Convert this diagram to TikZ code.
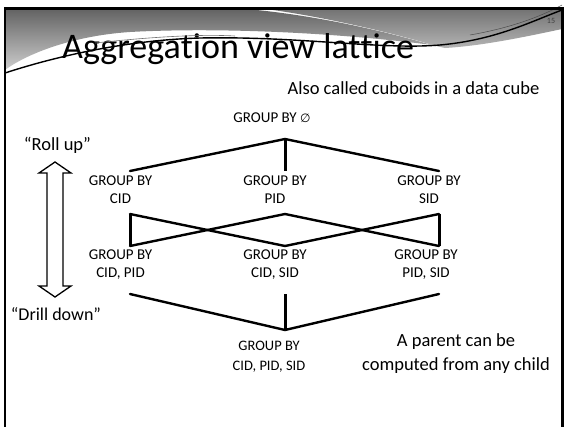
\documentclass[tikz,border=0pt]{standalone}
\usepackage{fontspec}
\setmainfont{Carlito}[RawFeature={-liga,-clig,-calt}]
\newfontfamily\symfont{DejaVu Sans}
\newcommand{\nolig}{\kern0pt{}}
\definecolor{hdrA}{HTML}{626262}
\definecolor{hdrB}{HTML}{CDCDCD}
\definecolor{hdrC}{HTML}{727272}
\definecolor{hdrD}{HTML}{B4B4B4}
\begin{document}
\begin{tikzpicture}[x=1pt,y=-1pt,
  lat/.style={line width=2.4pt, line cap=round},
  latv/.style={line width=3pt},
  lbl/.style={font=\fontsize{15}{18}\selectfont, align=center, inner sep=0pt},
  note/.style={font=\fontsize{18.5}{24}\selectfont, align=center, inner sep=0pt}]
\useasboundingbox (0,0) rectangle (565,426);
\clip (0,0) rectangle (565,426);
\fill[white] (0,0) rectangle (565,426);

% slide header: two grey bands separated by a white swoosh
\shade[top color=hdrA, bottom color=hdrB]
  (5,8.5) -- (240,8.5) .. controls (310,14) and (380,30) .. (432,45)
  .. controls (340,33) and (220,27) .. (130,32)
  .. controls (70,36) and (25,55) .. (5,70) -- cycle;
\shade[top color=hdrC, bottom color=hdrD]
  (262,8.5) -- (562,8.5) -- (562,29) .. controls (520,38) and (480,46) .. (445,48)
  -- (436,46) .. controls (390,32) and (320,16) .. (262,8.5) -- cycle;

% title (letter pairs kept apart so no ligatures form)
\node[anchor=base west, font=\fontsize{36}{40}\selectfont, inner sep=0pt] (title) at (62,58)
  {Aggrega\nolig tion view lat\nolig t\nolig ice};

% header rules
\draw[line width=0.6pt, black!55] (95,43) .. controls (150,37) and (200,34) .. (235,36);
\draw[line width=0.5pt, black!70] (470,35) .. controls (510,28) and (540,17) .. (562,5);
\draw[line width=1.4pt] (5,73) .. controls (60,55) and (130,40) .. (200,38)
  .. controls (300,36) and (380,50) .. (440,45) .. controls (495,40) and (530,22) .. (562,10);
\node[font=\fontsize{8}{9}\selectfont, text=black!75, inner sep=0pt] (pg) at (551,21) {15};

% slide frame
\draw[line width=2.5pt] (5,8.5) -- (562.5,8.5) -- (562.5,440) -- (5,440) -- cycle;

% notes
\node[note] (also) at (413.5,88) {Also called cuboids in a data cube};
\node[note] (roll) at (57.5,145) {“Roll up”};
\node[note, font=\fontsize{18}{24}\selectfont] (drill) at (56,314) {“Drill down”};
\node[note] (parent) at (456,354) {A parent can be\\computed from any child};

% roll-up / drill-down double arrow
\draw[line width=1.3pt, fill=white, line join=miter]
  (55,162) -- (71,173) -- (63,173) -- (63,286) -- (71,286) -- (55,297)
  -- (39,286) -- (47,286) -- (47,173) -- (39,173) -- cycle;

% lattice nodes
\node[lbl] (top) at (272,118) {GROUP BY {\symfont\fontsize{12}{18}\selectfont\itshape ∅}};
\node[lbl] (cid) at (120.5,190) {GROUP BY\\CID};
\node[lbl] (pid) at (275,190) {GROUP BY\\PID};
\node[lbl] (sid) at (429,190) {GROUP BY\\SID};
\node[lbl] (cp) at (120.5,265) {GROUP BY\\CID, PID};
\node[lbl] (cs) at (275,265) {GROUP BY\\CID, SID};
\node[lbl] (ps) at (426,265) {GROUP BY\\PID, SID};
\node[lbl, font=\fontsize{14.5}{20}\selectfont] (all) at (269,357) {GROUP BY\\CID, PID, SID};

% attachment points of the lattice edges
\coordinate (topB) at (285,139);
\coordinate (cidT) at (130,171);
\coordinate (pidT) at (285,171);
\coordinate (sidT) at (439,171);
\coordinate (cidB) at (130,214);
\coordinate (pidB) at (285,214);
\coordinate (sidB) at (439,214);
\coordinate (cpT) at (130,246);
\coordinate (csT) at (285,246);
\coordinate (psT) at (439,246);
\coordinate (cpB) at (130,294);
\coordinate (csB) at (285,294);
\coordinate (psB) at (439,294);
\coordinate (allT) at (285,330);

% lattice edges
\draw[lat] (topB) -- (cidT);
\draw[lat] (topB) -- (sidT);
\draw[latv] (topB) -- (pidT);
\draw[latv] (cidB) -- (cpT);
\draw[lat] (cidB) -- (csT);
\draw[lat] (pidB) -- (cpT);
\draw[lat] (pidB) -- (psT);
\draw[lat] (sidB) -- (csT);
\draw[latv] (sidB) -- (psT);
\draw[lat] (cpB) -- (allT);
\draw[lat] (psB) -- (allT);
\draw[latv] (csB) -- (allT);
\end{tikzpicture}
\end{document}
